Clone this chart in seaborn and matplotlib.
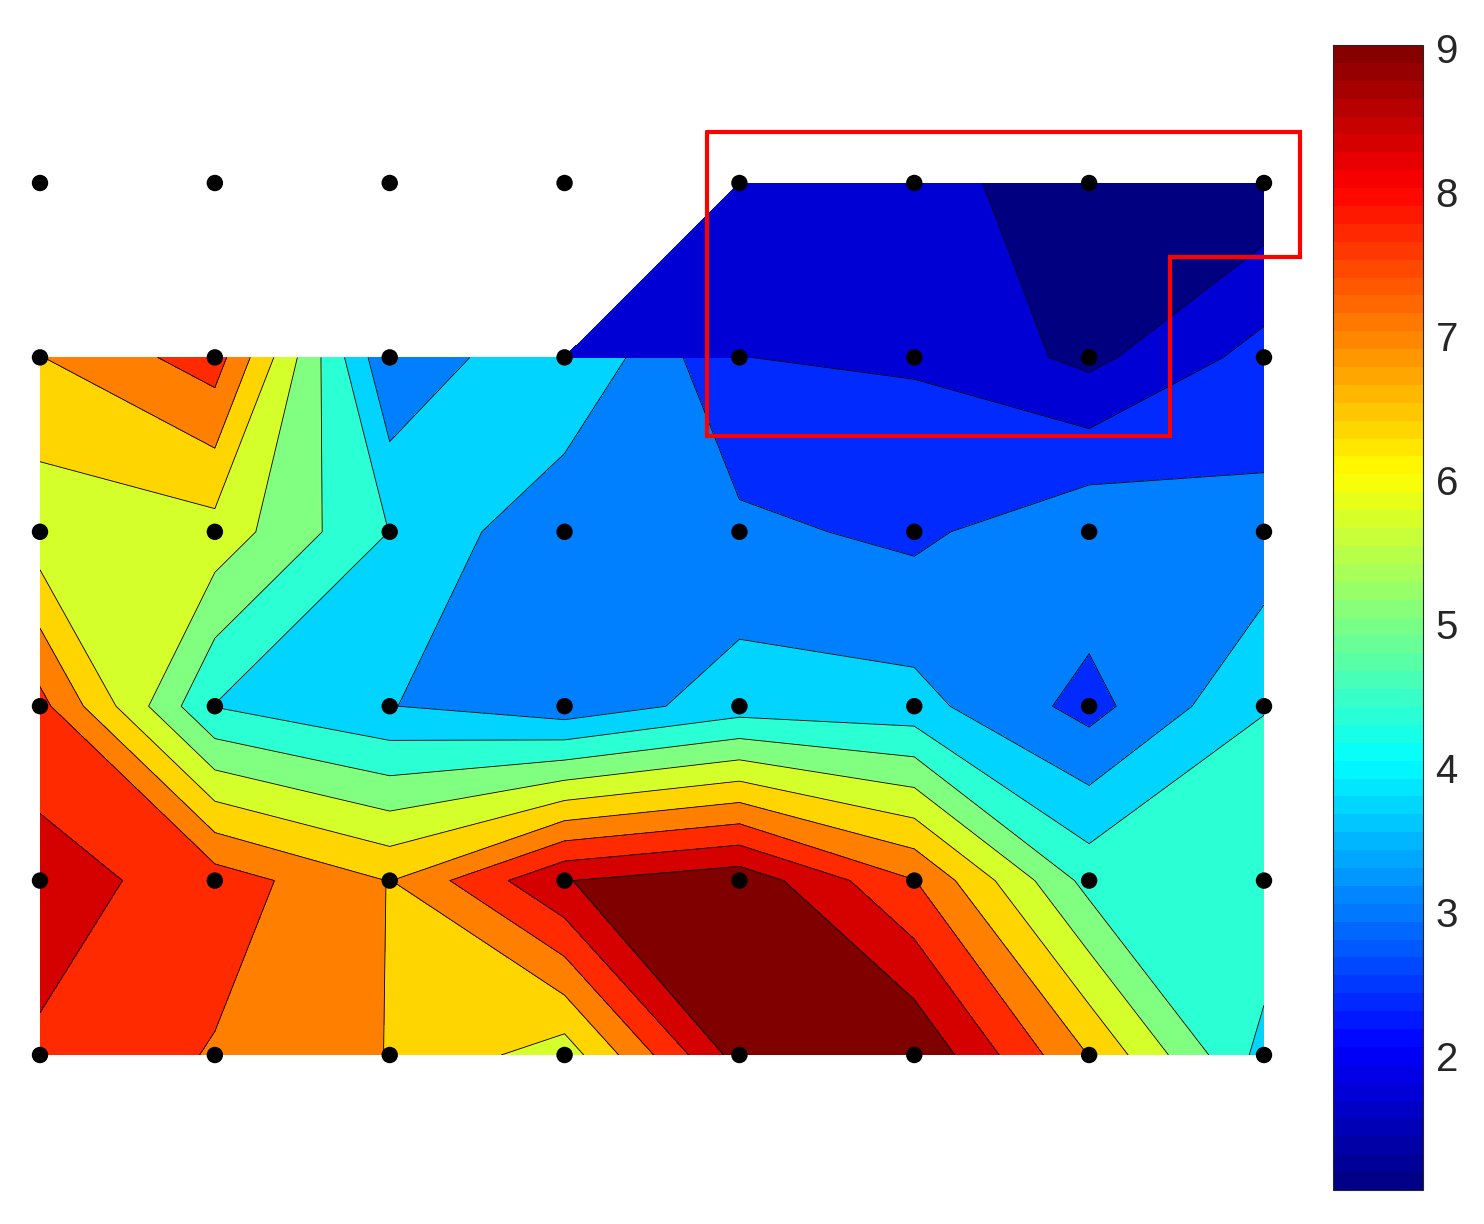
# se importan las bibliotecas
import numpy as np
import matplotlib
matplotlib.use("Agg")
import matplotlib.pyplot as plt
import matplotlib.tri as mtri
from matplotlib.colors import ListedColormap, Normalize
from matplotlib.cm import ScalarMappable
import seaborn as sns

nan = np.nan

# posiciones de la malla (columnas y filas de la medicion)
columnas = np.arange(8)
filas = np.arange(6)

# valores leidos por fila, de arriba hacia abajo (nan = sin dato)
fila_0 = [nan, nan, nan, nan, 2.00, 1.87, 1.18, 1.14]
fila_1 = [6.38, 7.30, 2.85, 4.05, 2.205, 2.133, 1.44, 2.43]
fila_2 = [5.41, 5.57, 3.99, 2.87, 2.935, 2.668, 3.30, 2.99]
fila_3 = [7.20, 3.98, 3.42, 3.00, 3.69, 3.61, 2.585, 3.97]
fila_4 = [7.85, 7.32, 6.38, 8.18, 8.60, 7.02, 4.38, 4.55]
fila_5 = [7.52, 6.95, 6.38, 5.47, 8.47, 8.75, 6.38, 3.78]
# valores de la fila 1 vistos desde la franja superior
fila_1_borde = [nan, nan, nan, 2.10, 2.15, 2.133, 1.44, 2.43]

# niveles de contorno
lineas = [1.6, 2.2, 2.8, 3.4, 4.0, 4.6, 5.2, 5.8, 6.4, 7.0, 7.6, 8.2]
niveles = [0.0] + lineas + [10.0]

# rango de la barra de color y sus marcas
rango_barra = (1.07, 9.02)
marcas_barra = [2, 3, 4, 5, 6, 7, 8, 9]

# zona marcada en rojo (en unidades de la malla)
zona_x = [3.814, 7.206, 7.206, 6.462, 6.462, 3.814, 3.814]
zona_y = [-0.292, -0.292, 0.424, 0.424, 1.451, 1.451, -0.292]


# se define el mapa de color jet al estilo matlab
def jet_matlab(f):
    f = np.asarray(f, dtype=float)
    r = np.clip(1.5 - np.abs(4 * f - 3), 0, 1)
    g = np.clip(1.5 - np.abs(4 * f - 2), 0, 1)
    b = np.clip(1.5 - np.abs(4 * f - 1), 0, 1)
    return np.stack([r, g, b], axis=-1)


colores_banda = [tuple(c) for c in jet_matlab(np.arange(13) / 12)]
jet64 = ListedColormap(jet_matlab((np.arange(64) + 0.5) / 64))

sns.set_style("white")
plt.rcParams['font.family'] = ['Liberation Sans', 'DejaVu Sans']

# tamaño de la figura
fig = plt.figure(figsize=(14.84, 12.24), dpi=100)
ax = fig.add_axes([40 / 1484, 1 - 1055 / 1224, 1224 / 1484, 872 / 1224])

# parte principal (filas 1 a 5)
X, Y = np.meshgrid(columnas, filas[1:])
Z = np.array([fila_1, fila_2, fila_3, fila_4, fila_5])
ax.contourf(X, Y, Z, levels=niveles, colors=colores_banda, antialiased=False)
ax.contour(X, Y, Z, levels=lineas, colors='k', linewidths=0.6)

# franja superior (filas 0 y 1) con triangulos para el borde sin datos
px = np.tile(columnas, 2).astype(float)
py = np.repeat([0.0, 1.0], 8)
pz = np.array(fila_0 + fila_1_borde, dtype=float)
triangulos = []
for c in range(7):
    triangulos.append([c, c + 1, 8 + c])
    triangulos.append([8 + c, c + 1, 8 + c + 1])
triangulos = np.array(triangulos)
mascara = np.isnan(pz[triangulos]).any(axis=1)
tri = mtri.Triangulation(px, py, triangulos, mask=mascara)
pz_ok = np.where(np.isnan(pz), 0.0, pz)
ax.tricontourf(tri, pz_ok, levels=niveles, colors=colores_banda, antialiased=False)
ax.tricontour(tri, pz_ok, levels=lineas, colors='k', linewidths=0.6)

# puntos de medicion
XX, YY = np.meshgrid(columnas, filas)
sns.scatterplot(x=XX.ravel(), y=YY.ravel(), color='black', s=140,
                edgecolor='none', ax=ax, clip_on=False, zorder=5, legend=False)

# zona marcada
ax.plot(zona_x, zona_y, color='#ff0000', lw=3, clip_on=False, zorder=6,
        solid_joinstyle='miter')

ax.set_xlim(0, 7)
ax.set_ylim(5, 0)
ax.axis('off')

# barra de color
cax = fig.add_axes([1333 / 1484, 1 - 1190 / 1224, 90 / 1484, 1145 / 1224])
sm = ScalarMappable(norm=Normalize(*rango_barra), cmap=jet64)
cb = fig.colorbar(sm, cax=cax)
cb.set_ticks(marcas_barra)
cb.set_ticklabels([str(m) for m in marcas_barra])
cax.tick_params(direction='in', length=7, width=0.8, left=True, right=True,
                labelleft=False, labelright=True, labelsize=29, pad=9)
cb.outline.set_linewidth(0.8)

fig.savefig('out.png', dpi=100)
